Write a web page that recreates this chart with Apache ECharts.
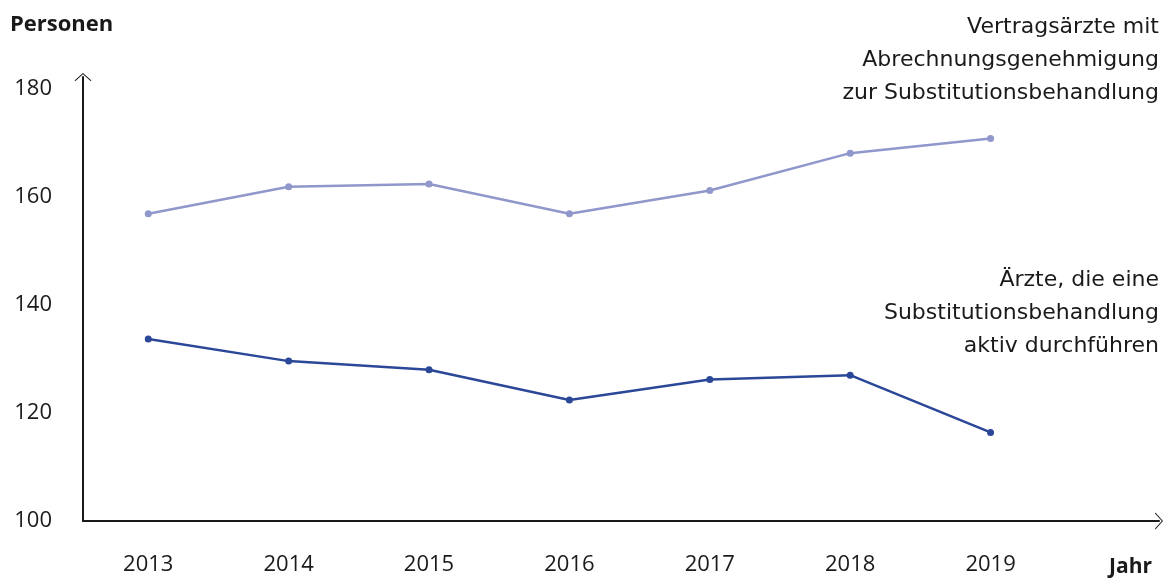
<!DOCTYPE html>
<html>
<head>
<meta charset="utf-8">
<script src="https://cdn.jsdelivr.net/npm/echarts@6/dist/echarts.min.js"></script>
<style>
  html, body { margin: 0; padding: 0; background: #fff; }
  #chart { width: 1166px; height: 578px; }
</style>
</head>
<body>
<div id="chart"></div>
<script>
// Jahre und Werte (Personen)
const years = [2013, 2014, 2015, 2016, 2017, 2018, 2019]
const vertragsaerzte = [156.9, 161.9, 162.4, 156.9, 161.2, 168.1, 170.8]
const aktiveAerzte = [133.7, 129.6, 128.0, 122.4, 126.2, 127.0, 116.4]
const yTicks = [100, 120, 140, 160, 180]

const labelUpper = 'Vertragsärzte mit\nAbrechnungsgenehmigung\nzur Substitutionsbehandlung'
const labelLower = 'Ärzte, die eine\nSubstitutionsbehandlung\naktiv durchführen'

const font = '"Open Sans", "Noto Sans", sans-serif'
const labelFont = '"DejaVu Sans", "Open Sans", sans-serif'
const ink = '#1a1a1a'
// offener Pfeil (Chevron) für die Achsenenden
const chevron = 'path://M0,76 L85,0 L170,76 L160,80 L85,12 L10,80 Z'

const pairs = (vals) => years.map((y, i) => [y, vals[i]])

const chart = echarts.init(document.getElementById('chart'))
chart.setOption({
  animation: false,
  textStyle: { fontFamily: font },
  title: [
    {
      text: 'Personen',
      left: 5,
      top: 9,
      textStyle: { fontFamily: font, fontWeight: 'bold', fontSize: 22, color: ink }
    },
    {
      text: 'Jahr',
      right: 9,
      top: 552,
      textStyle: { fontFamily: font, fontWeight: 'bold', fontSize: 21, color: ink }
    },
    {
      text: labelUpper,
      left: 1154,
      top: 6,
      textAlign: 'right',
      textStyle: { fontFamily: labelFont, fontWeight: 'normal', fontSize: 22, lineHeight: 33, color: ink }
    },
    {
      text: labelLower,
      left: 1154,
      top: 259,
      textAlign: 'right',
      textStyle: { fontFamily: labelFont, fontWeight: 'normal', fontSize: 22, lineHeight: 33, color: ink }
    }
  ],
  grid: {
    left: 83,
    right: 7,
    top: 77,
    bottom: 57,
    containLabel: false
  },
  xAxis: {
    type: 'value',
    min: 2012.535,
    max: 2020.2,
    minInterval: 1,
    maxInterval: 1,
    axisLine: {
      show: true,
      lineStyle: { color: ink, width: 2 },
      symbol: ['none', chevron],
      symbolSize: [17, 9]
    },
    axisTick: { show: false },
    splitLine: { show: false },
    axisLabel: {
      margin: 33,
      fontSize: 22,
      color: ink,
      showMinLabel: false,
      showMaxLabel: false,
      formatter: (v) => (years.indexOf(v) >= 0 ? String(v) : '')
    }
  },
  yAxis: {
    type: 'value',
    min: 100,
    max: 182.2,
    interval: 20,
    axisLine: {
      show: true,
      lineStyle: { color: ink, width: 2 },
      symbol: ['none', chevron],
      symbolSize: [17, 9]
    },
    axisTick: { show: false },
    splitLine: { show: false },
    axisLabel: {
      margin: 31,
      fontSize: 22,
      color: ink,
      showMaxLabel: false,
      formatter: (v) => (yTicks.indexOf(v) >= 0 ? String(v) : '')
    }
  },
  series: [
    {
      name: 'Vertragsärzte mit Abrechnungsgenehmigung zur Substitutionsbehandlung',
      type: 'line',
      data: pairs(vertragsaerzte),
      symbol: 'circle',
      symbolSize: 7,
      itemStyle: { color: '#9097cb' },
      lineStyle: { color: '#9097cb', width: 2.5 }
    },
    {
      name: 'Ärzte, die eine Substitutionsbehandlung aktiv durchführen',
      type: 'line',
      data: pairs(aktiveAerzte),
      symbol: 'circle',
      symbolSize: 7,
      itemStyle: { color: '#2b4797' },
      lineStyle: { color: '#2b4797', width: 2.5 }
    }
  ]
})
</script>
</body>
</html>
